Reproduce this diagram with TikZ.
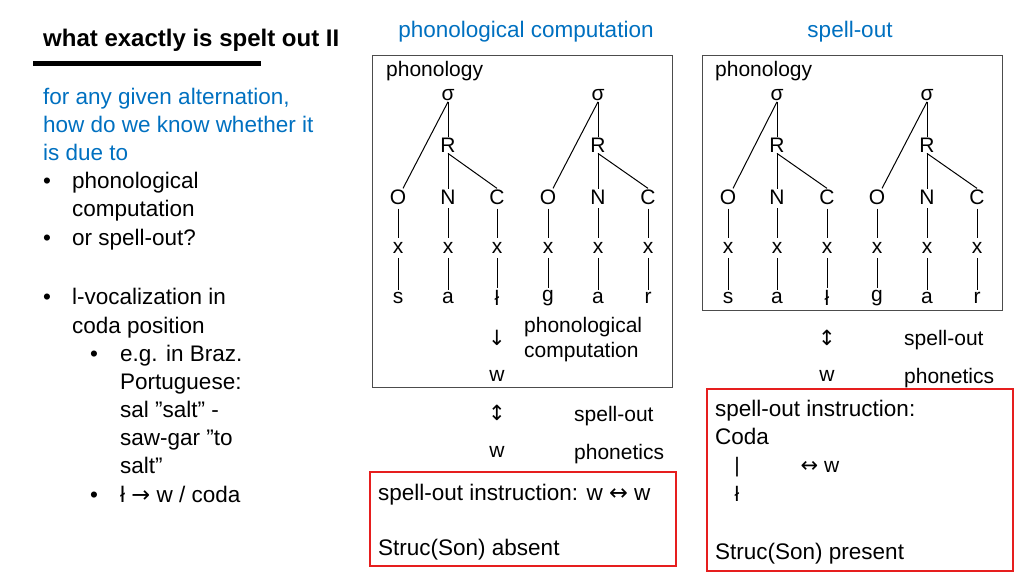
\documentclass[tikz,border=0pt]{standalone}
\usepackage{fontspec}
\setmainfont{Liberation Sans}
\newfontfamily\arrowfont{DejaVu Sans}
\usetikzlibrary{positioning}
\definecolor{slideblue}{RGB}{0,112,192}
\definecolor{slidered}{RGB}{230,30,30}
\newcommand\qq{\char"22\relax}
\newcommand\arr[1]{{\arrowfont #1}}

\tikzset{
  txt/.style={inner sep=0pt,anchor=base west,font=\fontsize{22.5}{26}\selectfont},
  sym/.style={inner sep=1pt,font=\fontsize{21}{24}\selectfont},
  small/.style={inner sep=0pt,anchor=base west,font=\fontsize{21}{24}\selectfont},
  tline/.style={line width=1pt},
  redbox/.style={draw=slidered,line width=1.2pt},
  panel/.style={draw=black!70,line width=0.8pt}
}

% one syllable: prefix, x of O, x of N, x of C, segments
\newcommand\sylltree[7]{
  \node[sym] (#1s) at (#3,95) {σ};
  \node[sym] (#1R) at (#3,145) {R};
  \foreach \p/\xx/\seg in {O/#2/#5,N/#3/#6,C/#4/#7}{
    \node[sym] (#1\p) at (\xx,197) {\p};
    \node[sym] (#1\p x) at (\xx,248) {x};
    \node[sym] (#1\p g) at (\xx,298) {\seg};
    \draw[tline] ([yshift=-3pt]#1\p.south) -- ([yshift=3pt]#1\p x.north);
    \draw[tline] ([yshift=-3pt]#1\p x.south) -- ([yshift=1pt]#1\p g.north);
  }
  \draw[tline] (#1s.south) -- ([xshift=5pt]#1O.north);
  \draw[tline] (#1s.south) -- (#1R.north);
  \draw[tline] (#1R.south) -- (#1N.north);
  \draw[tline] (#1R.south) -- (#1C.north);
}

\begin{document}
\begin{tikzpicture}[x=1pt,y=-1pt]
  \useasboundingbox (0,0) rectangle (1024,576);

  % title
  \node[txt,font=\fontsize{24}{28}\selectfont\bfseries] (title) at (43,46) {what exactly is spelt out II};
  \fill (33,61) rectangle (261,66);

  % left column
  \begin{scope}[every node/.style={txt}]
    \node[text=slideblue] (q1) at (43,104) {for any given alternation,};
    \node[text=slideblue] (q2) at (43,132) {how do we know whether it};
    \node[text=slideblue] (q3) at (43,160) {is due to};
    \node at (43,188) {•};
    \node at (72,188) {phonological};
    \node at (72,216) {computation};
    \node at (43,245) {•};
    \node at (72,245) {or spell-out?};
    \node at (43,304) {•};
    \node at (72,304) {l-vocalization in};
    \node at (72,333) {coda position};
    \node at (90,361) {•};
    \node at (120,361) {e.g. in Braz.};
    \node at (120,389) {Portuguese:};
    \node at (120,417) {sal \qq salt\qq{} -};
    \node at (120,445) {saw-gar \qq to};
    \node at (120,473) {salt\qq};
    \node at (90,502) {•};
    \node at (120,502) {ł \arr{→} w / coda};
  \end{scope}

  % headers
  \node[txt,text=slideblue,anchor=base] (hpc) at (526,37) {phonological computation};
  \node[txt,text=slideblue,anchor=base] (hso) at (850,37) {spell-out};

  % left panel: phonological computation
  \draw[panel] (372,55) rectangle (672,387);
  \node[small] (ph1) at (386,76) {phonology};
  \sylltree{a}{398}{448}{497}{s}{a}{ł}
  \sylltree{b}{548}{598}{648}{g}{a}{r}
  \node[sym] (down1) at (497,338) {\arr{↓}};
  \node[small] (pc1) at (524,332) {phonological};
  \node[small] (pc2) at (524,357) {computation};
  \node[sym] (w1) at (497,376) {w};
  \node[sym] (ud1) at (497,413) {\arr{↕}};
  \node[small] (so1) at (574,421) {spell-out};
  \node[sym] (w2) at (497,452) {w};
  \node[small] (pn1) at (574,459) {phonetics};
  \draw[redbox] (370,472) rectangle (676,566);
  \node[txt] (ins1) at (378,500) {spell-out instruction: w \arr{↔} w};
  \node[txt] (ss1) at (378,555) {Struc(Son) absent};

  % right panel: spell-out
  \draw[panel] (702,55) rectangle (1002,310);
  \node[small] (ph2) at (715,76) {phonology};
  \sylltree{c}{728}{777}{827}{s}{a}{ł}
  \sylltree{d}{877}{927}{977}{g}{a}{r}
  \node[sym] (ud2) at (827,338) {\arr{↕}};
  \node[small] (so2) at (904,345) {spell-out};
  \node[sym] (w3) at (827,376) {w};
  \node[small] (pn2) at (904,383) {phonetics};
  \draw[redbox] (707,389) rectangle (1013,571);
  \node[txt] (ins2) at (715,416) {spell-out instruction:};
  \node[txt] (coda) at (715,444) {Coda};
  \node[sym] (bar) at (737,467) {|};
  \node[sym] (lw) at (820,467) {\arr{↔} w};
  \node[sym] (lt) at (737,494) {ł};
  \node[txt] (ss2) at (715,559) {Struc(Son) present};
\end{tikzpicture}
\end{document}
